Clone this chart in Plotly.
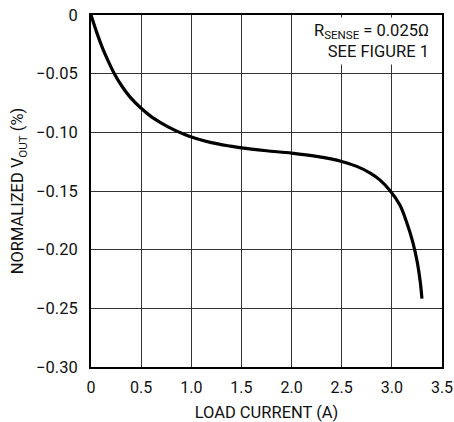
import plotly.graph_objects as go

load_current = [0, 0.057, 0.107, 0.157, 0.233, 0.307, 0.39, 0.5, 0.607, 0.773, 0.94,
                1.04, 1.2, 1.39, 1.5, 1.75, 2.0, 2.25, 2.5, 2.65, 2.78, 2.88, 2.985,
                3.08, 3.145, 3.21, 3.254, 3.284, 3.30]
vout = [0, -0.0148, -0.0265, -0.0365, -0.0500, -0.0605, -0.0700, -0.0795, -0.0870,
        -0.0955, -0.1020, -0.1050, -0.1088, -0.1118, -0.1133, -0.1157, -0.1177,
        -0.1205, -0.1248, -0.1290, -0.1345, -0.1405, -0.1500, -0.1620, -0.1760,
        -0.1940, -0.2110, -0.2280, -0.2417]

x_ticks = [0, 0.5, 1.0, 1.5, 2.0, 2.5, 3.0, 3.5]
x_labels = ["0", "0.5", "1.0", "1.5", "2.0", "2.5", "3.0", "3.5"]
y_ticks = [0, -0.05, -0.10, -0.15, -0.20, -0.25, -0.30]
y_labels = ["0", "\u22120.05", "\u22120.10", "\u22120.15", "\u22120.20", "\u22120.25", "\u22120.30"]

FONT = "Roboto, Arial, sans-serif"

fig = go.Figure()
fig.add_trace(go.Scatter(x=load_current, y=vout, mode="lines",
                         line=dict(color="black", width=3.2, shape="spline", smoothing=0.9),
                         hoverinfo="skip", showlegend=False))

fig.update_layout(
    width=454, height=422,
    margin=dict(l=91, r=12, t=15, b=55),
    paper_bgcolor="white", plot_bgcolor="white",
    font=dict(family=FONT, size=16.5, color="#111"),
    xaxis=dict(range=[0, 3.5], tickvals=x_ticks, ticktext=x_labels,
               tickfont=dict(size=16),
               showgrid=True, gridcolor="#333", gridwidth=1,
               showline=True, linecolor="black", linewidth=2, mirror=True,
               ticks="", zeroline=False, automargin=False, ticklabelstandoff=5,
               ticklabeloverflow="allow",
               title=dict(text="LOAD CURRENT (A)", standoff=23, font=dict(size=16.5))),
    yaxis=dict(range=[-0.30, 0], tickvals=y_ticks, ticktext=y_labels,
               showgrid=True, gridcolor="#333", gridwidth=1,
               showline=True, linecolor="black", linewidth=2, mirror=True,
               ticks="", zeroline=False, automargin=False, ticklabelstandoff=8,
               ticklabeloverflow="allow",
               title=dict(text="NORMALIZED V<sub>OUT</sub> (%)", standoff=8, font=dict(size=16.5))),
)

fig.add_annotation(xref="paper", yref="paper", x=0.975, y=0.995,
                   xanchor="right", yanchor="top", align="right",
                   text="R<sub>SENSE</sub> = 0.025\u03a9<br>SEE FIGURE 1",
                   showarrow=False, bgcolor="white", borderpad=3,
                   font=dict(family=FONT, size=16.5, color="#111"))

fig.write_html("out.html", config={"displayModeBar": False},
               post_script="document.body.style.margin='0';document.body.style.overflow='hidden';")
